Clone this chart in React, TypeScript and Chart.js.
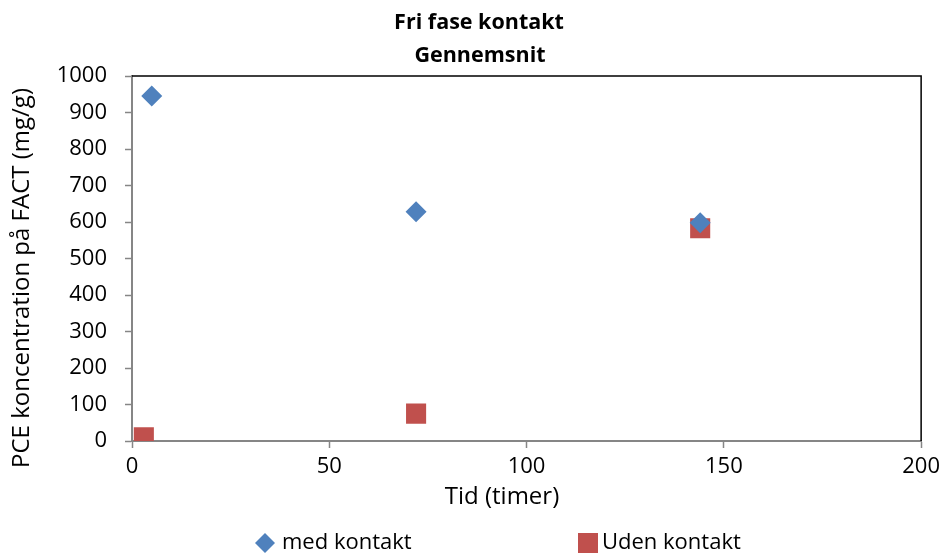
import React, { useEffect, useRef } from "react";
import { Chart, registerables } from "chart.js";

Chart.register(...registerables);

const titleLines = ["Fri fase kontakt", "Gennemsnit"];
const xAxisTitle = "Tid (timer)";
const yAxisTitle = "PCE koncentration på FACT (mg/g)";

const seriesNames = ["med kontakt", "Uden kontakt"];
const medKontaktX = [5, 72, 144];
const medKontaktY = [945, 628, 598];
const udenKontaktX = [3, 72, 144];
const udenKontaktY = [10, 75, 583];

const xMin = 0;
const xMax = 200;
const xStep = 50;
const yMin = 0;
const yMax = 1000;
const yStep = 100;

const BLUE = "#4F81BD";
const RED = "#C0504D";
const FONT = "'Open Sans', 'DejaVu Sans', sans-serif";

const decorPlugin = {
  id: "decor",
  afterDraw(chart: any) {
    const { ctx, chartArea } = chart;
    ctx.save();
    // top and right border in black
    ctx.strokeStyle = "#000000";
    ctx.lineWidth = 1.5;
    ctx.beginPath();
    ctx.moveTo(chartArea.left, chartArea.top);
    ctx.lineTo(chartArea.right, chartArea.top);
    ctx.lineTo(chartArea.right, chartArea.bottom);
    ctx.stroke();

    // chart title
    ctx.fillStyle = "#000000";
    ctx.textAlign = "center";
    ctx.textBaseline = "middle";
    ctx.font = `bold 21.5px ${FONT}`;
    ctx.fillText(titleLines[0], 479, 23);
    ctx.fillText(titleLines[1], 480, 56);

    // axis titles
    ctx.font = `24px ${FONT}`;
    ctx.fillText(xAxisTitle, 502, 497);
    ctx.save();
    ctx.translate(22, 278);
    ctx.rotate(-Math.PI / 2);
    ctx.fillText(yAxisTitle, 0, 0);
    ctx.restore();

    // legend
    ctx.font = `22px ${FONT}`;
    const ly = 543;
    ctx.fillStyle = BLUE;
    const r = 10;
    const dx = 265;
    ctx.beginPath();
    ctx.moveTo(dx - r, ly);
    ctx.lineTo(dx, ly - r);
    ctx.lineTo(dx + r, ly);
    ctx.lineTo(dx, ly + r);
    ctx.closePath();
    ctx.fill();
    ctx.fillStyle = RED;
    ctx.fillRect(578, ly - 10, 20, 20);
    ctx.fillStyle = "#000000";
    ctx.textAlign = "left";
    ctx.fillText(seriesNames[0], 282, ly);
    ctx.fillText(seriesNames[1], 602, ly);
    ctx.restore();
  },
};

export default function App() {
  const canvasRef = useRef<HTMLCanvasElement | null>(null);

  useEffect(() => {
    document.body.style.margin = "0";
    const canvas = canvasRef.current;
    if (!canvas) return;
    const chart = new Chart(canvas, {
      type: "scatter",
      data: {
        datasets: [
          {
            label: seriesNames[0],
            data: medKontaktX.map((x, i) => ({ x, y: medKontaktY[i] })),
            backgroundColor: BLUE,
            borderColor: BLUE,
            pointStyle: "rectRot",
            pointRadius: 10.5,
            pointHoverRadius: 10.5,
            borderWidth: 0,
          },
          {
            label: seriesNames[1],
            data: udenKontaktX.map((x, i) => ({ x, y: udenKontaktY[i] })),
            backgroundColor: RED,
            borderColor: RED,
            pointStyle: "rect",
            pointRadius: 14.2,
            pointHoverRadius: 14.2,
            borderWidth: 0,
          },
        ],
      },
      options: {
        responsive: false,
        animation: false,
        layout: { padding: { left: 0, right: 23, top: 76, bottom: 0 } },
        plugins: {
          legend: { display: false },
          tooltip: { enabled: false },
          title: { display: false },
        },
        scales: {
          x: {
            type: "linear",
            min: xMin,
            max: xMax,
            ticks: {
              stepSize: xStep,
              color: "#000000",
              font: { family: FONT, size: 22 },
              padding: 6,
              maxRotation: 0,
              callback: (v: any) => String(v),
            },
            grid: {
              drawOnChartArea: false,
              drawTicks: true,
              tickLength: 7,
              tickColor: "#868686",
              tickWidth: 1.5,
            },
            border: { display: true, color: "#868686", width: 2 },
            afterFit(scale: any) {
              scale.height = 112;
            },
          },
          y: {
            type: "linear",
            min: yMin,
            max: yMax,
            ticks: {
              stepSize: yStep,
              color: "#000000",
              font: { family: FONT, size: 22 },
              padding: 18,
              callback: (v: any) => String(v),
            },
            grid: {
              drawOnChartArea: false,
              drawTicks: true,
              tickLength: 7,
              tickColor: "#868686",
              tickWidth: 1.5,
            },
            border: { display: true, color: "#868686", width: 2 },
            afterFit(scale: any) {
              scale.width = 132;
            },
          },
        },
      },
      plugins: [decorPlugin],
    } as any);
    return () => chart.destroy();
  }, []);

  return (
    <div style={{ width: 946, height: 553 }}>
      <canvas ref={canvasRef} width={946} height={553} style={{ display: "block" }} />
    </div>
  );
}
